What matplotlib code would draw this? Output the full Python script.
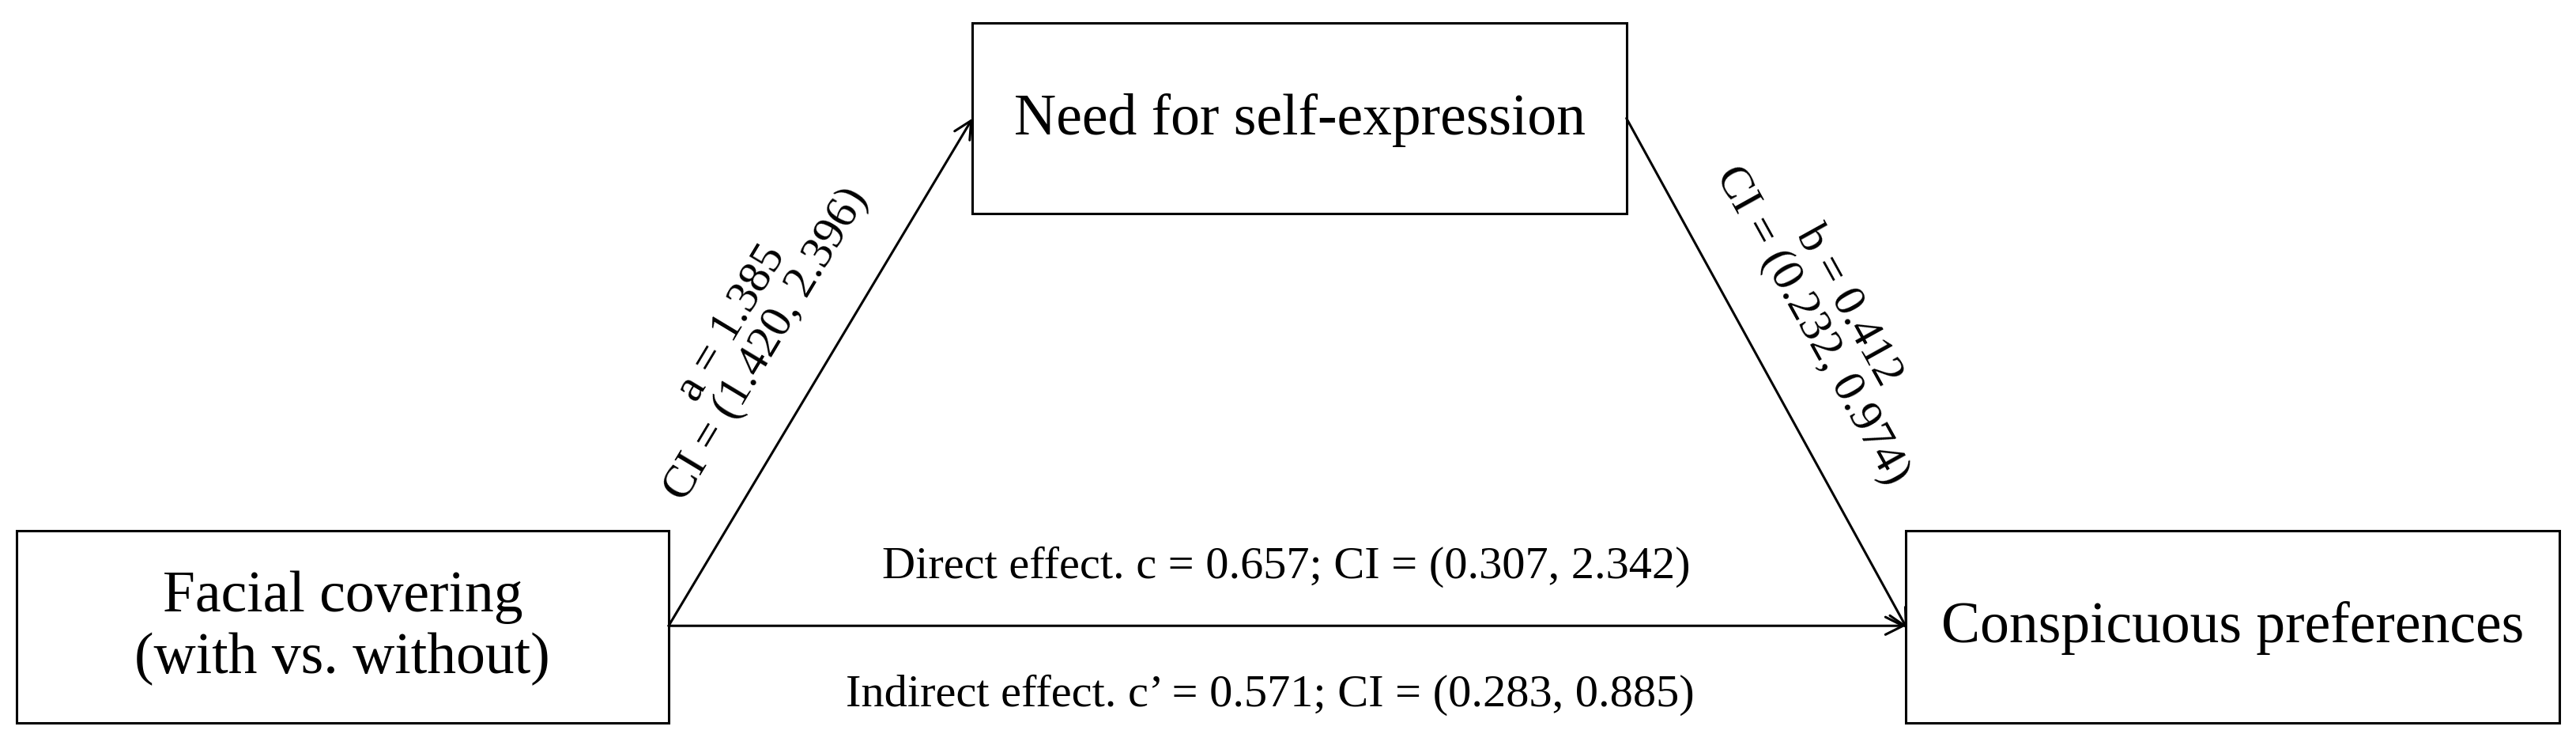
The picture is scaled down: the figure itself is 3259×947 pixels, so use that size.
import matplotlib
matplotlib.use("Agg")
import matplotlib.pyplot as plt
from matplotlib.patches import Rectangle

plt.rcParams['font.family'] = ['Liberation Serif', 'DejaVu Serif']

box_labels = ["Facial covering\n(with vs. without)", "Need for self-expression", "Conspicuous preferences"]
path_a = [1.385, 1.420, 2.396]
path_b = [0.412, 0.232, 0.974]
direct = [0.657, 0.307, 2.342]
indirect = [0.571, 0.283, 0.885]

fig = plt.figure(figsize=(32.59, 9.47), dpi=100)
ax = fig.add_axes([0, 0, 1, 1])
ax.set_xlim(0, 1568); ax.set_ylim(456, 0); ax.axis('off')

boxes = [(10, 323, 397, 117), (592, 14, 398, 116), (1160, 323, 398, 117)]
for (x, y, w, h), lab in zip(boxes, box_labels):
    ax.add_patch(Rectangle((x, y), w, h, fill=False, lw=2.2, ec='black'))
    ax.text(x + w/2, y + h/2 + 1, lab, ha='center', va='center', fontsize=53, linespacing=1.2)

ap = dict(arrowstyle='->', lw=2.2, color='black', mutation_scale=40, shrinkA=0, shrinkB=0)
ax.annotate('', xy=(592, 72), xytext=(407, 381), arrowprops=ap)
ax.annotate('', xy=(1161, 383), xytext=(990, 72), arrowprops=ap)
ax.annotate('', xy=(1160, 381), xytext=(407, 381), arrowprops=ap)

ax.text(456, 203, f"a = {path_a[0]:.3f}\nCI = ({path_a[1]:.3f}, {path_a[2]:.3f})",
        rotation=59, ha='center', va='center', fontsize=42, linespacing=1.0, rotation_mode='anchor')
ax.text(1114, 192, f"b = {path_b[0]:.3f}\nCI = ({path_b[1]:.3f}, {path_b[2]:.3f})",
        rotation=-61, ha='center', va='center', fontsize=42, linespacing=1.0, rotation_mode='anchor')
ax.text(783, 345, f"Direct effect. c = {direct[0]:.3f}; CI = ({direct[1]:.3f}, {direct[2]:.3f})",
        ha='center', va='center', fontsize=42)
ax.text(773, 423, f"Indirect effect. c\u2019 = {indirect[0]:.3f}; CI = ({indirect[1]:.3f}, {indirect[2]:.3f})",
        ha='center', va='center', fontsize=42)

fig.savefig("out.png", dpi=100)
